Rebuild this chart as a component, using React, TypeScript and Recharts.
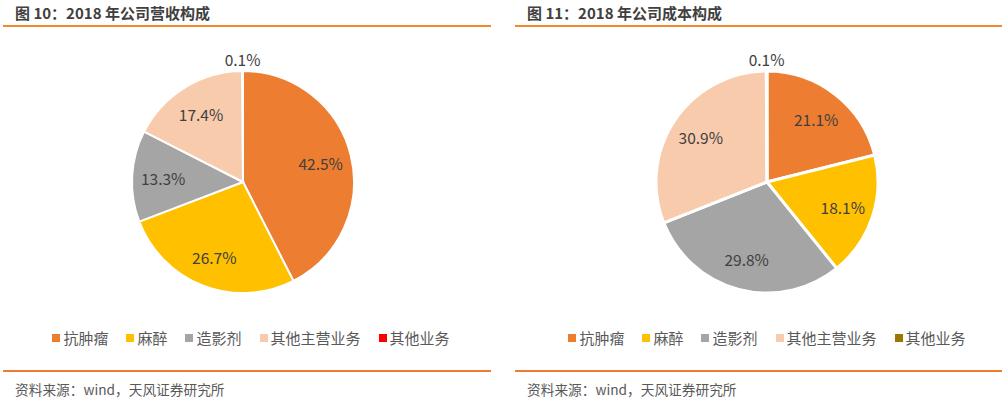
import React from "react";
import { PieChart, Pie, Cell, Legend } from "recharts";

const categories = ["抗肿瘤", "麻醉", "造影剂", "其他主营业务", "其他业务"];
const revenueValues = [42.5, 26.7, 13.3, 17.4, 0.1];
const costValues = [21.1, 18.1, 29.8, 30.9, 0.1];
const revenueColors = ["#ED7D31", "#FFC000", "#A5A5A5", "#F8CBAD", "#FF0000"];
const costColors = ["#ED7D31", "#FFC000", "#A5A5A5", "#F8CBAD", "#9C7800"];
const titles = ["图 10：2018 年公司营收构成", "图 11：2018 年公司成本构成"];
const sourceText = "资料来源：wind，天风证券研究所";

const FONT = '"Noto Sans CJK SC", "Microsoft YaHei", sans-serif';
const RADIAN = Math.PI / 180;

const renderLabel = (props: any) => {
  const { cx, cy, midAngle, outerRadius, value } = props;
  const small = value < 1;
  const r = small ? outerRadius + 12 : outerRadius * 0.72;
  const x = cx + r * Math.cos(-midAngle * RADIAN);
  const y = cy + r * Math.sin(-midAngle * RADIAN);
  return (
    <text
      x={x}
      y={y}
      fill="#404040"
      fontSize={15.5}
      fontFamily={FONT}
      textAnchor="middle"
      dominantBaseline="central"
    >
      {`${value.toFixed(1)}%`}
    </text>
  );
};

const makeLegend = (colors: string[], shift: number) => () => (
  <div
    style={{
      display: "flex",
      justifyContent: "center",
      alignItems: "center",
      fontFamily: FONT,
      fontSize: 15,
      color: "#595959",
      whiteSpace: "nowrap",
      paddingLeft: shift * 2,
    }}
  >
    {categories.map((c, i) => (
      <span key={c} style={{ display: "inline-flex", alignItems: "center", marginRight: i < categories.length - 1 ? 18 : 0 }}>
        <span style={{ width: 8, height: 8, background: colors[i], display: "inline-block", marginRight: 3 }} />
        {c}
      </span>
    ))}
  </div>
);

const Panel = ({ left, title, values, colors, cx, stroke, lineLeft, lineWidth, legendShift }: any) => {
  const data = categories.map((name, i) => ({ name, value: values[i] }));
  return (
    <div style={{ position: "absolute", left, top: 0, width: 490, height: 398 }}>
      <div
        style={{
          position: "absolute",
          left: lineLeft + 12,
          top: 2,
          fontFamily: FONT,
          fontWeight: "bold",
          fontSize: 15,
          color: "#404040",
          whiteSpace: "nowrap",
          lineHeight: "22px",
        }}
      >
        {title}
      </div>
      <div style={{ position: "absolute", left: lineLeft, top: 25, width: lineWidth, height: 2, background: "#F08A2C" }} />
      <div style={{ position: "absolute", left: 0, top: 0 }}>
        <PieChart width={490} height={360} margin={{ top: 0, right: 0, bottom: 0, left: 0 }}>
          <Pie
            data={data}
            dataKey="value"
            nameKey="name"
            cx={cx}
            cy={182}
            outerRadius={111}
            startAngle={90}
            endAngle={-270}
            stroke="#FFFFFF"
            strokeWidth={stroke}
            label={renderLabel}
            labelLine={false}
            isAnimationActive={false}
          >
            {data.map((d, i) => (
              <Cell key={d.name} fill={colors[i]} />
            ))}
          </Pie>
          <Legend
            content={makeLegend(colors, legendShift)}
            wrapperStyle={{ position: "absolute", top: 327, left: 0, width: 490 }}
          />
        </PieChart>
      </div>
      <div style={{ position: "absolute", left: lineLeft, top: 370, width: lineWidth, height: 1.5, background: "#ED7D31" }} />
      <div
        style={{
          position: "absolute",
          left: lineLeft + 12,
          top: 379,
          fontFamily: FONT,
          fontSize: 13.7,
          color: "#595959",
          whiteSpace: "nowrap",
          lineHeight: "20px",
        }}
      >
        {sourceText}
      </div>
    </div>
  );
};

export default function App() {
  return (
    <div style={{ position: "absolute", left: 0, top: 0, width: 1002, height: 398, background: "#FFFFFF", overflow: "hidden" }}>
      <Panel left={0} title={titles[0]} values={revenueValues} colors={revenueColors} cx={243} stroke={2} lineLeft={3} lineWidth={488} legendShift={6} />
      <Panel left={512} title={titles[1]} values={costValues} colors={costColors} cx={255} stroke={3} lineLeft={3} lineWidth={487} legendShift={10} />
    </div>
  );
}
